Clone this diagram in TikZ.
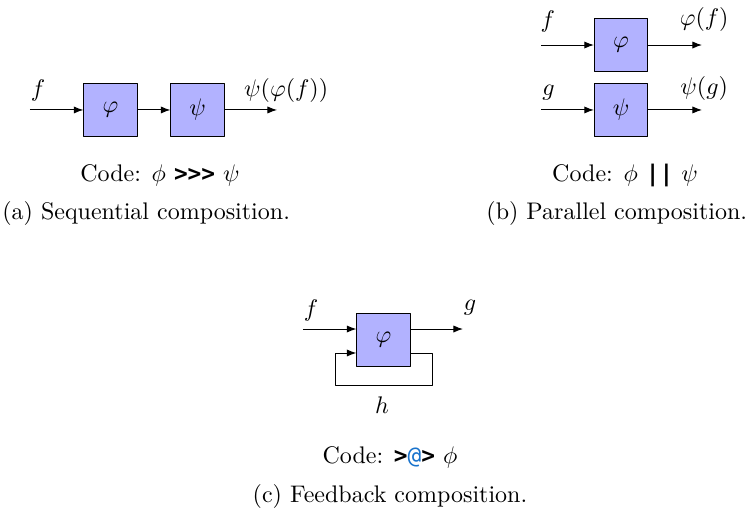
\documentclass[tikz,border=0pt]{standalone}
\usepackage{fontspec}
\newfontfamily\codefont{DejaVu Sans Mono}[Scale=0.95]
\usetikzlibrary{arrows.meta, positioning}
\newcommand{\cd}[1]{{\codefont\bfseries #1}}

\begin{document}
\begin{tikzpicture}[line join=round,
    block/.style={draw, fill=blue!30, minimum size=0.78cm, inner sep=0pt},
    sig/.style={-{Latex[length=4pt,width=3pt]}}]
  \useasboundingbox (0,0) rectangle (11.054,-7.584);

  % (a) sequential
  \node[block] (phiA) at (1.618,-1.610) {$\varphi$};
  \node[block] (psiA) at (2.892,-1.610) {$\psi$};
  \coordinate (inA) at (0.439,-1.610);
  \coordinate (outA) at (4.056,-1.610);
  \draw[sig] (inA) -- (phiA);
  \draw[sig] (phiA) -- (psiA);
  \draw[sig] (psiA) -- (outA);
  \node (fA) at (0.556,-1.318) {$f$};
  \node (resA) at (4.19,-1.318) {$\psi(\varphi(f))$};
  \node (codeA) at (2.343,-2.562) {Code: $\phi$ \cd{>>>} $\psi$};
  \node (capA) at (2.14,-3.12) {(a) Sequential composition.};

  % (b) parallel
  \node[block] (phiB) at (9.092,-0.659) {$\varphi$};
  \node[block] (psiB) at (9.092,-1.610) {$\psi$};
  \coordinate (inB1) at (7.921,-0.659);
  \coordinate (outB1) at (10.278,-0.659);
  \coordinate (inB2) at (7.921,-1.610);
  \coordinate (outB2) at (10.278,-1.610);
  \draw[sig] (inB1) -- (phiB);
  \draw[sig] (phiB) -- (outB1);
  \draw[sig] (inB2) -- (psiB);
  \draw[sig] (psiB) -- (outB2);
  \node (fB) at (8.02,-0.32) {$f$};
  \node (gB) at (8.03,-1.35) {$g$};
  \node (resB1) at (10.31,-0.29) {$\varphi(f)$};
  \node (resB2) at (10.31,-1.29) {$\psi(g)$};
  \node (codeB) at (9.15,-2.562) {Code: $\phi$ \cd{||} $\psi$};
  \node (capB) at (9.03,-3.12) {(b) Parallel composition.};

  % (c) feedback
  \node[block] (phiC) at (5.615,-4.978) {$\varphi$};
  \coordinate (inC) at (4.436,-4.817);
  \coordinate (outC) at (6.779,-4.817);
  \draw[sig] (inC) -- (inC -| phiC.west);
  \draw[sig] (outC -| phiC.east) -- (outC);
  \coordinate (fbR) at (6.325,-5.637);
  \coordinate (fbL) at (4.919,-5.637);
  \draw[sig] (phiC.east |- 0,-5.168) -| (fbR) -- (fbL) |- (phiC.west |- 0,-5.168);
  \node (fC) at (4.553,-4.539) {$f$};
  \node (gC) at (6.88,-4.51) {$g$};
  \node (hC) at (5.593,-5.93) {$h$};
  \node (codeC) at (5.71,-6.69) {Code: \cd{>{\mdseries\color[rgb]{0.1,0.45,0.8}@}>} $\phi$};
  \node (capC) at (5.71,-7.262) {(c) Feedback composition.};
\end{tikzpicture}
\end{document}
